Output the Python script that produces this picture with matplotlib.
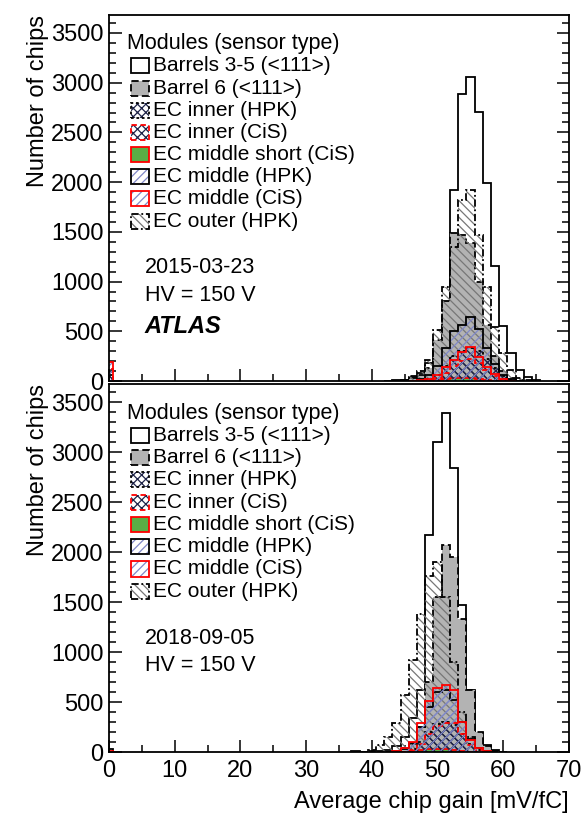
import numpy as np
import matplotlib
matplotlib.use("Agg")
import matplotlib.pyplot as plt
from matplotlib.patches import Rectangle

plt.rcParams['font.family'] = ['Liberation Sans', 'DejaVu Sans']
plt.rcParams['hatch.linewidth'] = 0.9

# --- data: counts per 1.25 mV/fC bin, keyed by bin centre ---
centers_2015 = [0, 42.5, 43.75, 45, 46.25, 47.5, 48.75, 50, 51.25, 52.5, 53.75, 55,
                56.25, 57.5, 58.75, 60, 61.25, 62.5, 63.75, 65]
barrels_2015 = [0, 3, 8, 15, 40, 80, 180, 284, 552, 1925, 2885, 3055, 2704, 1988, 1155, 552, 284, 110, 43, 10]
barrel6_2015 = [0, 0, 5, 10, 30, 60, 130, 410, 800, 1490, 1470, 1390, 1000, 560, 250, 100, 35, 10, 0, 0]
ecin_hpk_2015 = [60, 0, 0, 0, 0, 5, 20, 60, 150, 250, 300, 330, 300, 220, 130, 50, 15, 0, 0, 0]
ecin_cis_2015 = [120, 0, 0, 0, 0, 0, 5, 30, 80, 150, 200, 220, 180, 110, 50, 15, 0, 0, 0, 0]
ecmid_short_2015 = [0, 0, 0, 0, 0, 0, 5, 10, 20, 30, 35, 30, 20, 10, 5, 0, 0, 0, 0, 0]
ecmid_hpk_2015 = [0, 0, 0, 0, 5, 20, 60, 150, 330, 500, 560, 640, 520, 330, 170, 60, 20, 5, 0, 0]
ecmid_cis_2015 = [190, 0, 0, 0, 3, 10, 25, 60, 144, 211, 290, 340, 244, 144, 70, 20, 5, 0, 0, 0]
ecout_2015 = [0, 0, 0, 15, 50, 100, 211, 512, 944, 1350, 1817, 1917, 1466, 950, 545, 281, 110, 30, 8, 0]

centers_2018 = [0, 37.5, 38.75, 40, 41.25, 42.5, 43.75, 45, 46.25, 47.5, 48.75, 50, 51.25,
                52.5, 53.75, 55, 56.25, 57.5, 58.75, 60]
barrels_2018 = [35, 8, 5, 10, 15, 25, 60, 154, 342, 624, 2166, 3105, 3390, 2837, 1469, 624, 191, 70, 20, 5]
barrel6_2018 = [0, 0, 0, 0, 0, 5, 15, 40, 80, 250, 700, 1550, 2066, 1950, 1330, 620, 200, 60, 15, 0]
ecin_hpk_2018 = [0, 0, 0, 0, 0, 0, 0, 5, 30, 100, 200, 280, 300, 270, 180, 80, 25, 5, 0, 0]
ecin_cis_2018 = [0, 0, 0, 0, 0, 0, 0, 5, 20, 80, 180, 260, 292, 292, 180, 70, 20, 0, 0, 0]
ecmid_short_2018 = [0, 0, 0, 0, 0, 0, 0, 5, 10, 20, 30, 35, 30, 20, 10, 5, 0, 0, 0, 0]
ecmid_hpk_2018 = [0, 0, 0, 0, 0, 0, 10, 30, 90, 250, 450, 600, 620, 520, 300, 130, 40, 10, 0, 0]
ecmid_cis_2018 = [10, 0, 0, 0, 0, 0, 10, 40, 104, 292, 506, 644, 674, 624, 300, 120, 40, 10, 0, 0]
ecout_2018 = [0, 0, 5, 20, 70, 154, 292, 573, 925, 1378, 1764, 1900, 1550, 900, 400, 150, 40, 10, 0, 0]

labels = ["Barrels 3-5 (<111>)", "Barrel 6 (<111>)", "EC inner (HPK)", "EC inner (CiS)",
          "EC middle short (CiS)", "EC middle (HPK)", "EC middle (CiS)", "EC outer (HPK)"]
dates = ["2015-03-23", "2018-09-05"]

BW = 1.25  # bin width

GRAY = '#b3b3b3'
GREEN = '#5aae45'
BLUE = '#8088c8'
NAVY = '#1e2348'

# fill colour, hatch, hatch colour, edge colour, linestyle
styles = [
    ('white', None, None, 'black', '-'),
    (GRAY, None, None, 'black', (0, (4, 2))),
    (None, 'xxxx', NAVY, 'black', (0, (1.5, 1.5))),
    (None, 'xxxx', NAVY, 'red', (0, (3, 2))),
    (GREEN, None, None, 'red', '-'),
    (None, '////', BLUE, 'black', '-'),
    (None, '////', BLUE, 'red', '-'),
    (None, '\\\\\\\\', '#777777', 'black', (0, (4, 1.5, 1, 1.5))),
]
draw_order = [0, 1, 7, 4, 5, 2, 3, 6]


def groups(centers, counts):
    # contiguous runs of non-empty bins, so outlines don't run along the axis
    out, cur = [], []
    for c, n in zip(centers, counts):
        if n > 0 and (not cur or abs(c - cur[-1][0] - BW) < 1e-6):
            cur.append((c, n))
        else:
            if cur:
                out.append(cur)
            cur = [(c, n)] if n > 0 else []
    if cur:
        out.append(cur)
    return out


def draw_hist(ax, centers, counts, st, z):
    face, hatch, hcol, ec, ls = st
    for g in groups(centers, counts):
        c = [p[0] for p in g]
        w = [p[1] for p in g]
        bins = np.arange(c[0] - BW / 2, c[-1] + BW, BW)
        if face:
            ax.hist(c, bins=bins, weights=w, histtype='stepfilled',
                    facecolor=face, lw=0, zorder=z)
        if hatch:
            ax.hist(c, bins=bins, weights=w, histtype='stepfilled',
                    facecolor='none', edgecolor=hcol, hatch=hatch, lw=0, zorder=z)
        ax.hist(c, bins=bins, weights=w, histtype='step',
                color=ec, ls=ls, lw=1.3, zorder=z)


def legend_box(ax, y, st):
    face, hatch, hcol, ec, ls = st
    x, w, h = 0.048, 0.039, 0.041
    ax.add_patch(Rectangle((x, y - h / 2), w, h, transform=ax.transAxes,
                           facecolor=face or 'white', lw=0, zorder=10))
    if hatch:
        ax.add_patch(Rectangle((x, y - h / 2), w, h, transform=ax.transAxes,
                               facecolor='none', edgecolor=hcol, hatch=hatch, lw=0, zorder=10))
    ax.add_patch(Rectangle((x, y - h / 2), w, h, transform=ax.transAxes,
                           facecolor='none', edgecolor=ec, ls=ls, lw=1.3, zorder=11))


fig = plt.figure(figsize=(5.83, 8.15), dpi=100)
ax1 = fig.add_axes([0.187, 0.5325, 0.789, 0.449])
ax2 = fig.add_axes([0.187, 0.0773, 0.789, 0.4515])

panels = [
    (ax1, centers_2015, [barrels_2015, barrel6_2015, ecin_hpk_2015, ecin_cis_2015, ecmid_short_2015,
                         ecmid_hpk_2015, ecmid_cis_2015, ecout_2015]),
    (ax2, centers_2018, [barrels_2018, barrel6_2018, ecin_hpk_2018, ecin_cis_2018, ecmid_short_2018,
                         ecmid_hpk_2018, ecmid_cis_2018, ecout_2018]),
]

for p, (ax, centers, series) in enumerate(panels):
    for z, i in enumerate(draw_order):
        draw_hist(ax, centers, series[i], styles[i], z + 1)
    ax.set_xlim(0, 70)
    ax.set_ylim(0, 3680)
    ax.set_xticks(np.arange(0, 71, 10))
    ax.set_xticks(np.arange(0, 71, 5), minor=True)
    ax.set_yticks(np.arange(0, 3501, 500))
    ax.set_yticks(np.arange(0, 3601, 100), minor=True)
    ax.tick_params(which='both', direction='in', left=True, right=True, top=False,
                   labelsize=17, width=1.1)
    ax.tick_params(which='major', length=9, pad=4)
    ax.tick_params(which='minor', length=5)
    ax.tick_params(axis='x', pad=6)
    for s in ax.spines.values():
        s.set_linewidth(1.3)
        s.set_zorder(20)

    ax.text(0.039, 0.921, "Modules (sensor type)", transform=ax.transAxes,
            fontsize=15.5, va='center', ha='left', zorder=12)
    for k, lab in enumerate(labels):
        y = 0.861 - k * 0.0606
        legend_box(ax, y, styles[k])
        ax.text(0.0955, y, lab, transform=ax.transAxes, fontsize=15,
                va='center', ha='left', zorder=12)
    ax.text(0.078, 0.309, dates[p], transform=ax.transAxes, fontsize=15.5,
            va='center', ha='left')
    ax.text(0.078, 0.235, "HV = 150 V", transform=ax.transAxes, fontsize=15.5,
            va='center', ha='left')
    ax.text(-0.155, 1.0, "Number of chips", transform=ax.transAxes, fontsize=17,
            rotation=90, va='top', ha='center')

ax1.text(0.078, 0.148, "ATLAS", transform=ax1.transAxes, fontsize=17,
         fontweight='bold', fontstyle='italic', va='center', ha='left')
ax1.tick_params(axis='x', labelbottom=False)
ax2.set_xlabel("Average chip gain [mV/fC]", fontsize=17, loc='right', labelpad=6)

fig.savefig("out.png", dpi=100)
